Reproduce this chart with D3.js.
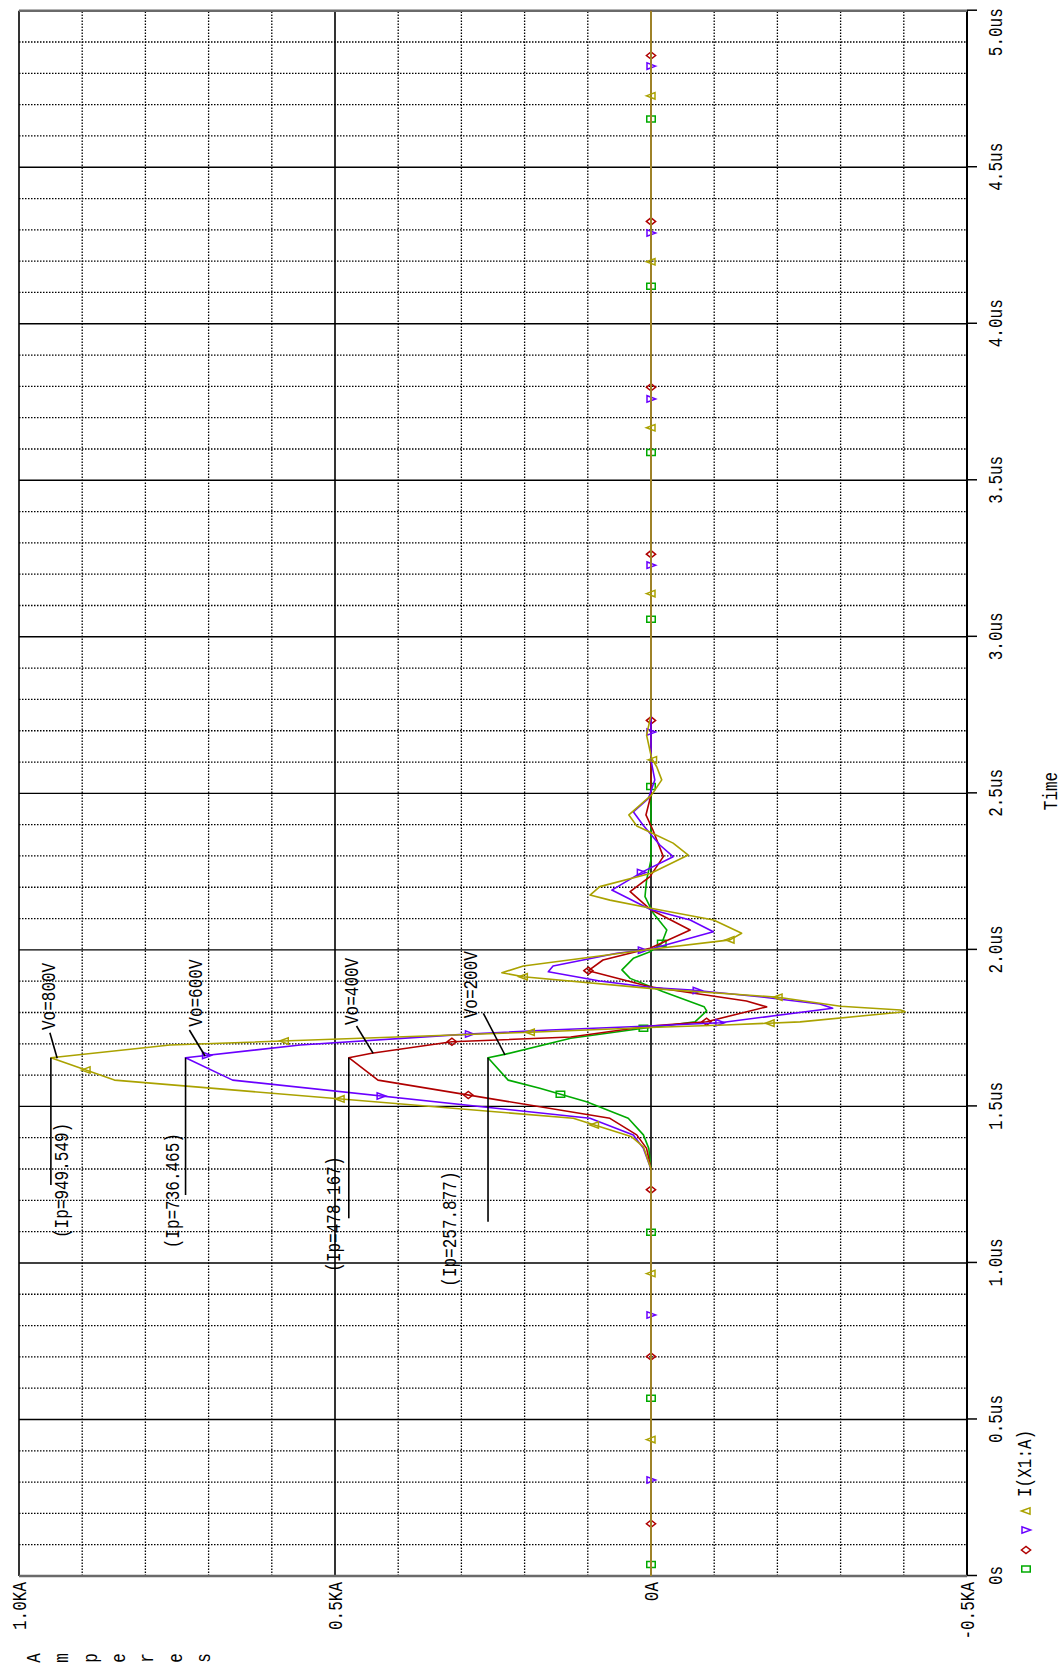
<!DOCTYPE html>
<html><head><meta charset="utf-8">
<script src="https://cdn.jsdelivr.net/npm/d3@7"></script>
<style>body{margin:0;background:#fff}svg{display:block}</style>
</head><body>
<svg id="chart" width="1063" height="1668"></svg>
<script>
// ---------------- data ----------------
const timeTicks = [0,0.5,1,1.5,2,2.5,3,3.5,4,4.5,5];
const timeTickLabels = ["0s","0.5us","1.0us","1.5us","2.0us","2.5us","3.0us","3.5us","4.0us","4.5us","5.0us"];
const ampTicks = [-500,0,500,1000];
const ampTickLabels = ["-0.5KA","0A","0.5KA","1.0KA"];
const seriesLabels = ["Vo=200V","Vo=400V","Vo=600V","Vo=800V"];
const peakLabels = ["(Ip=257.877)","(Ip=478.167)","(Ip=736.465)","(Ip=949.549)"];
const peakTime = 1.6556;
const legendText = "I(X1:A)";

// time (us) and current (A) for each trace
const t200 = [0,1.30,1.366,1.409,1.462,1.515,1.558,1.584,1.6556,1.667,1.7176,1.7495,1.757,1.7706,1.805,1.8185,1.866,1.909,1.936,1.973,1.994,2.021,2.0635,2.117,2.170,2.223,2.287,5];
const i200 = [0,0,3.5,12,36,102,176,226,257.9,230,127,12,-19.5,-70,-88,-84,-19.5,33,46,28,1.6,-17,-25,-3.6,9.5,7,0,0];

const t400 = [0,1.30,1.366,1.409,1.462,1.584,1.6556,1.670,1.7067,1.7215,1.757,1.7706,1.818,1.8367,1.8824,1.9335,1.9677,2.005,2.0635,2.13,2.186,2.234,2.298,2.383,2.431,2.495,5];
const i400 = [0,0,7,22.6,65,432,478.2,442,315,127,1.6,-88,-183,-151,1.6,99,76,1.6,-62,1.6,33,1.6,-19.5,-3,8,0,0];

const t600 = [0,1.30,1.366,1.409,1.462,1.584,1.6556,1.696,1.730,1.744,1.757,1.7674,1.8134,1.827,1.8504,1.8718,1.880,1.9006,1.930,1.9485,1.989,2.002,2.058,2.0955,2.13,2.191,2.25,2.2977,2.335,2.399,2.441,2.484,2.543,2.606,5];
const i600 = [0,0,12,28,96.5,662,736.5,555,297,160,1.6,-109,-287.5,-267,-172,-64,0,81,162.5,155,54,1.6,-98.6,-62,1.6,62,12.7,-35,-14,12.7,28,4,-6,0,0];

const t800 = [0,1.30,1.371,1.403,1.462,1.584,1.6556,1.696,1.737,1.752,1.760,1.770,1.8025,1.808,1.820,1.8486,1.877,1.914,1.927,1.9485,2.002,2.032,2.053,2.0955,2.133,2.159,2.175,2.202,2.245,2.303,2.341,2.372,2.396,2.431,2.463,2.495,2.543,2.585,2.612,2.686,2.75,5];
const i800 = [0,0,12,30.5,123,849,949.5,761,191,2,-117,-236,-402,-395,-300,-201,2,202,236,202,0,-125,-143.5,-99,0,65,96.5,81,0,-59,-35,-3,22.6,35,17,-1,-17,-9,-1,7,0,0];

// marker times (us) for each trace
const m200 = [0.037,0.568,1.098,1.539,1.7495,2.021,2.522,3.056,3.589,4.120,4.654];
const m400 = [0.167,0.701,1.234,1.5365,1.7067,1.7706,1.9335,2.733,3.264,3.797,4.327,4.857];
const m600 = [0.3066,0.834,1.5333,1.663,1.731,1.7674,1.870,1.999,2.247,2.696,3.229,3.760,4.290,4.823];
const m800 = [0.4357,0.966,1.4406,1.524,1.616,1.709,1.737,1.766,1.8486,1.914,2.032,2.607,3.138,3.668,4.198,4.728];

// ---------------- layout / style ----------------
const W = 1668, H = 1063;          // chart drawn in its natural (unrotated) frame
const colors = ["#00aa00","#b00000","#6a00ff","#aaa200"];
const FONT = "Liberation Mono, DejaVu Sans Mono, monospace";
const FS = 20, SX = 0.8;

const svg = d3.select("#chart");
const root = svg.append("g").attr("transform", `translate(0,${W}) rotate(-90)`);

const x = d3.scaleLinear().domain([0,5]).range([92,1657.3]);
const y = d3.scaleLinear().domain([-500,1000]).range([967,19]);

function txt(g, u, v, s, anchor) {
  return g.append("text")
    .attr("transform", `translate(${u},${v}) scale(${SX},1)`)
    .attr("text-anchor", anchor || "start")
    .attr("font-family", FONT).attr("font-size", FS).attr("fill", "#000")
    .text(s);
}

// ---------------- grid ----------------
const grid = root.append("g");
const minorT = d3.range(1,50).map(k => k/10).filter(t => Math.round(t*10) % 5 !== 0);
const majorT = timeTicks.slice(1, -1);
const minorI = d3.range(-400, 1000, 100).filter(v => v % 500 !== 0);
const majorI = [0, 500];

grid.selectAll(".mt").data(minorT).join("line")
  .attr("x1", d => x(d)).attr("x2", d => x(d)).attr("y1", y(1000)).attr("y2", y(-500))
  .attr("stroke", "#000").attr("stroke-width", 1.3).attr("stroke-dasharray", "1.5,1.5");
grid.selectAll(".mi").data(minorI).join("line")
  .attr("x1", x(0)).attr("x2", x(5)).attr("y1", d => y(d)).attr("y2", d => y(d))
  .attr("stroke", "#000").attr("stroke-width", 1.3).attr("stroke-dasharray", "1.5,1.5");
grid.selectAll(".Mt").data(majorT).join("line")
  .attr("x1", d => x(d)).attr("x2", d => x(d)).attr("y1", y(1000)).attr("y2", y(-500))
  .attr("stroke", "#000").attr("stroke-width", 1.4);
grid.selectAll(".Mi").data(majorI).join("line")
  .attr("x1", x(0)).attr("x2", x(5)).attr("y1", d => y(d)).attr("y2", d => y(d))
  .attr("stroke", "#000").attr("stroke-width", 1.6);

// ---------------- axes ----------------
const xAxis = root.append("g").attr("transform", `translate(0,${y(-500)})`)
  .call(d3.axisBottom(x).tickValues(timeTicks).tickFormat((d,i) => timeTickLabels[i]).tickSize(10).tickPadding(10.8));
xAxis.select(".domain").remove();
xAxis.selectAll(".tick line").attr("stroke", "#000").attr("stroke-width", 1.5);
xAxis.selectAll(".tick text")
  .attr("font-family", FONT).attr("font-size", FS).attr("fill", "#000")
  .attr("transform", `scale(${SX},1)`)
  .attr("text-anchor", (d,i) => i === timeTicks.length - 1 ? "end" : "middle")
  .attr("x", (d,i) => i === timeTicks.length - 1 ? 2/SX : 0);

const yAxis = root.append("g").attr("transform", `translate(${x(0)},0)`)
  .call(d3.axisLeft(y).tickValues(ampTicks).tickFormat((d,i) => ampTickLabels[i]).tickSize(0).tickPadding(7.5));
yAxis.select(".domain").remove();
yAxis.selectAll(".tick text")
  .attr("font-family", FONT).attr("font-size", FS).attr("fill", "#000")
  .attr("transform", `scale(${SX},1)`);

// frame
const frame = root.append("g");
frame.append("line").attr("x1", x(0)).attr("x2", x(5)).attr("y1", y(1000)).attr("y2", y(1000))
  .attr("stroke", "#000").attr("stroke-width", 1.6);
frame.append("line").attr("x1", x(0)).attr("x2", x(5)).attr("y1", y(-500)).attr("y2", y(-500))
  .attr("stroke", "#000").attr("stroke-width", 2);
frame.append("line").attr("x1", x(0)).attr("x2", x(0)).attr("y1", y(1000)).attr("y2", y(-500))
  .attr("stroke", "#6a6a6a").attr("stroke-width", 2.4);
frame.append("line").attr("x1", x(5)).attr("x2", x(5)).attr("y1", y(1000)).attr("y2", y(-500))
  .attr("stroke", "#6a6a6a").attr("stroke-width", 2.4);

// axis titles
txt(root, 877, 1057, "Time", "middle");
"Amperes".split("").forEach((c, k) => txt(root, 10, 40 + 28.33 * k, c, "middle"));

// ---------------- traces ----------------
const markerPaths = [
  "M-3,-4.25h6v8.5h-6Z",                 // square
  "M0,-4.6L3.6,0L0,4.6L-3.6,0Z",         // diamond
  "M0,4.6L3.2,-4L-3.2,-4Z",              // triangle down
  "M0,-4.6L3.2,4L-3.2,4Z"                // triangle up
];
const traces = [[t200,i200,m200],[t400,i400,m400],[t600,i600,m600],[t800,i800,m800]];
const line = d3.line().x(d => x(d[0])).y(d => y(d[1]));

function interp(ts, is, t) {
  for (let k = 0; k < ts.length - 1; k++) {
    if (t >= ts[k] && t <= ts[k+1]) {
      const f = (t - ts[k]) / (ts[k+1] - ts[k]);
      return is[k] + f * (is[k+1] - is[k]);
    }
  }
  return 0;
}

const plot = root.append("g");
traces.forEach(([ts, is, ms], s) => {
  const pts = ts.map((t, k) => [t, is[k]]);
  plot.append("path").datum(pts).attr("d", line)
    .attr("fill", "none").attr("stroke", colors[s]).attr("stroke-width", 1.6)
    .attr("stroke-linejoin", "round");
  plot.selectAll(null).data(ms).join("path")
    .attr("d", markerPaths[s])
    .attr("transform", t => `translate(${x(t)},${y(interp(ts, is, t))})`)
    .attr("fill", "none").attr("stroke", colors[s]).attr("stroke-width", 1.5);
});

// ---------------- annotations (offsets in px from the peak) ----------------
const peakValues = [257.877, 478.167, 736.465, 949.549];
const annot = [
  {vo:[39.4,-11.3], lead:[[44.4,-4.7],[2.7,17]],  ipEnd:-164,   ipTxt:[-229,-32]},
  {vo:[32.7,9],     lead:[[31.7,7.7],[4.4,24.4]], ipEnd:-160.6, ipTxt:[-214,-8.8]},
  {vo:[31,16.2],    lead:[[27.7,3.8],[1.7,19.5]], ipEnd:-137.3, ipTxt:[-190.6,-7]},
  {vo:[27.7,4],     lead:[[25,-1],[-0.6,6.3]],    ipEnd:-127.3, ipTxt:[-180.3,17.5]}
];
const ann = root.append("g");
annot.forEach((a, s) => {
  const pu = x(peakTime), pv = y(peakValues[s]);
  ann.append("line").attr("x1", pu).attr("y1", pv).attr("x2", pu + a.ipEnd).attr("y2", pv)
    .attr("stroke", "#000").attr("stroke-width", 1.6);
  ann.append("line").attr("x1", pu + a.lead[0][0]).attr("y1", pv + a.lead[0][1])
    .attr("x2", pu + a.lead[1][0]).attr("y2", pv + a.lead[1][1])
    .attr("stroke", "#000").attr("stroke-width", 1.6);
  txt(ann, pu + a.vo[0], pv + a.vo[1], seriesLabels[s]);
  txt(ann, pu + a.ipTxt[0], pv + a.ipTxt[1], peakLabels[s]);
});

// ---------------- legend ----------------
const leg = root.append("g");
[99,118,138,157].forEach((u, s) => {
  leg.append("path").attr("d", markerPaths[s]).attr("transform", `translate(${u},1026)`)
    .attr("fill", "none").attr("stroke", colors[s]).attr("stroke-width", 1.5);
});
txt(leg, 171, 1031, legendText);
</script>
</body></html>
